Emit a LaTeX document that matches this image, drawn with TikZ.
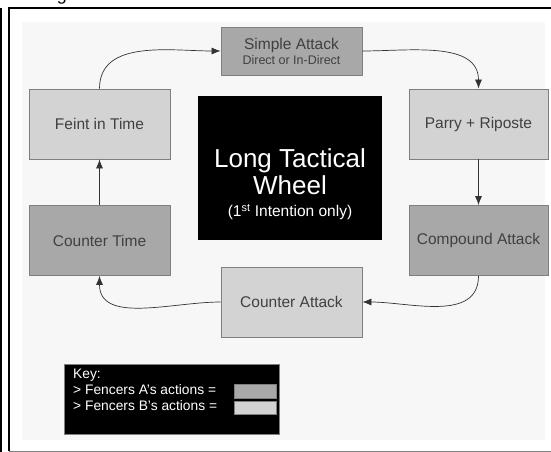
\documentclass[tikz,border=0pt]{standalone}
\usepackage{fontspec}
\setmainfont{Liberation Sans}
\usepackage{xcolor}
\usetikzlibrary{arrows.meta}
\definecolor{fencera}{HTML}{A8A8A8}
\definecolor{fencerb}{HTML}{D3D3D3}
\definecolor{edge}{HTML}{7F7F7F}
\definecolor{label}{HTML}{404040}
\definecolor{panel}{HTML}{F7F7F7}
\begin{document}
\begin{tikzpicture}[x=1pt,y=1pt,
        actbox/.style={draw=edge,line width=0.8pt,text=label,font=\fontsize{15.5}{18}\selectfont,
          minimum width=141pt,minimum height=70pt,inner sep=0pt,align=center},
        abox/.style={actbox,fill=fencera},
        bbox/.style={actbox,fill=fencerb},
        link/.style={draw=black!80,line width=0.7pt,-{Latex[length=9pt,width=7pt]}}]
        \useasboundingbox (0,0) rectangle (551,452);
        \fill[panel] (22,12) rectangle (545,430);
        \draw[line width=1.6pt] (9,0.5) -- (9,444) -- (551,444);
        \draw[line width=1.2pt] (1,0) -- (1,444);
        \draw[line width=0.8pt,edge] (9,1) -- (551,1);
        \begin{scope}
        \clip (0,445) rectangle (551,452);
        \node(cap) at (62,454) {\fontsize{18}{18}\selectfont g};
        \end{scope}
        \node[abox,minimum height=48pt](simple) at (291.5,401) {Simple Attack\\[-3pt]{\fontsize{12.5}{14}\selectfont Direct or In-Direct}};
        \node[bbox,minimum width=139pt](parry) at (478.5,328) {Parry + Riposte};
        \node[abox,minimum width=139pt](compound) at (478.5,211.5) {Compound Attack};
        \node[bbox](counter) at (291.5,150) {Counter Attack};
        \node[abox](countertime) at (99.5,211.5) {Counter Time};
        \node[bbox](feint) at (99.5,328) {Feint in Time};
        \node[fill=black,minimum width=184pt,minimum height=144pt](wheel) at (290,284) {};
        \node[text=white,align=center,inner sep=0pt,font=\fontsize{26}{27}\selectfont](wheeltext) at (290,268)
          {Long Tactical\\Wheel\\[-5pt]{\fontsize{15.5}{18}\selectfont (1\textsuperscript{st} Intention only)}};
        \node[fill=black,draw=edge,minimum width=215pt,minimum height=70pt](key) at (171.5,53) {};
        \node[text=white,anchor=north west,align=left,inner sep=0pt,font=\fontsize{13.8}{16}\selectfont](keytext) at (73,83)
          {Key:\\> Fencers A's actions =\\> Fencers B's actions =};
        \node[fill=fencera,draw=edge,minimum width=42pt,minimum height=14pt,inner sep=0pt](keya) at (255,61) {};
        \node[fill=fencerb,draw=edge,minimum width=42pt,minimum height=13pt,inner sep=0pt](keyb) at (255,44.5) {};
        \draw[link](feint.north) to[out=90,in=180] (simple.west);
        \draw[link](simple.east) to[out=0,in=90] (parry.north);
        \draw[link](parry)--(compound);
        \draw[link](compound.south) to[out=-90,in=0] (counter.east);
        \draw[link](counter.west) to[out=180,in=-90] (countertime.south);
        \draw[link](countertime)--(feint);
        \end{tikzpicture}
\end{document}
